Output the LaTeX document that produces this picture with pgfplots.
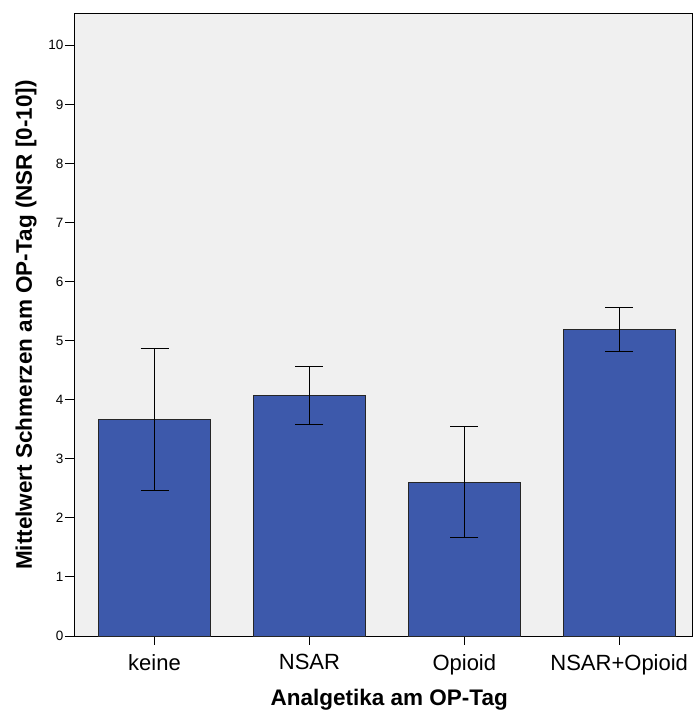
\documentclass[border=0pt]{standalone}
\usepackage{pgfplots}
\pgfplotsset{compat=1.18}
\usepackage{fontspec}
\setmainfont{Liberation Sans}
\definecolor{barblue}{HTML}{3D59AB}
\definecolor{bgray}{HTML}{F0F0F0}
\begin{document}
\begin{tikzpicture}[x=1bp,y=1bp]
\begin{axis}[
  scale only axis,
  width=618bp, height=622bp,
  xmin=-0.52, xmax=3.47,
  ymin=0, ymax=10.53,
  axis background/.style={fill=bgray},
  axis line style={line width=1pt},
  xtick={0,1,2,3},
  xticklabels={keine,NSAR,Opioid,NSAR+Opioid},
  ytick={0,1,...,10},
  tick align=outside,
  tick pos=left,
  major tick length=9bp,
  tick style={black, line width=1pt},
  yticklabel style={font=\fontsize{13.5bp}{15bp}\selectfont, inner sep=1.5bp},
  xticklabel style={font=\fontsize{22bp}{24bp}\selectfont, inner sep=1bp, yshift=-8bp},
  /pgf/number format/assume math mode=true,
  ylabel={\bfseries\smash{Mittelwert Schmerzen am OP-Tag (NSR [0-10])}},
  xlabel={\bfseries\smash{Analgetika am OP-Tag}},
  label style={font=\fontsize{22.5bp}{24bp}\selectfont, inner sep=0pt},
  ylabel style={at={(axis description cs:-0.068,0.5)}, anchor=base},
  xlabel style={at={(axis description cs:0.51,-0.1125)}, anchor=base},
]
\addplot[ybar, bar width=112bp, fill=barblue, draw=black!85, line width=1pt,
  error bars/.cd, y dir=both, y explicit,
  error bar style={black, line width=1pt},
  error mark options={rotate=90, mark size=14bp, line width=1pt}]
  coordinates {
  (0,3.67) +- (0,1.20)
  (1,4.07) +- (0,0.495)
  (2,2.60) +- (0,0.94)
  (3,5.19) +- (0,0.37)
  };
\end{axis}
\path[use as bounding box] ([xshift=-74bp,yshift=-77bp]current axis.south west) rectangle ([xshift=1bp,yshift=14bp]current axis.north east);
\end{tikzpicture}
\end{document}
